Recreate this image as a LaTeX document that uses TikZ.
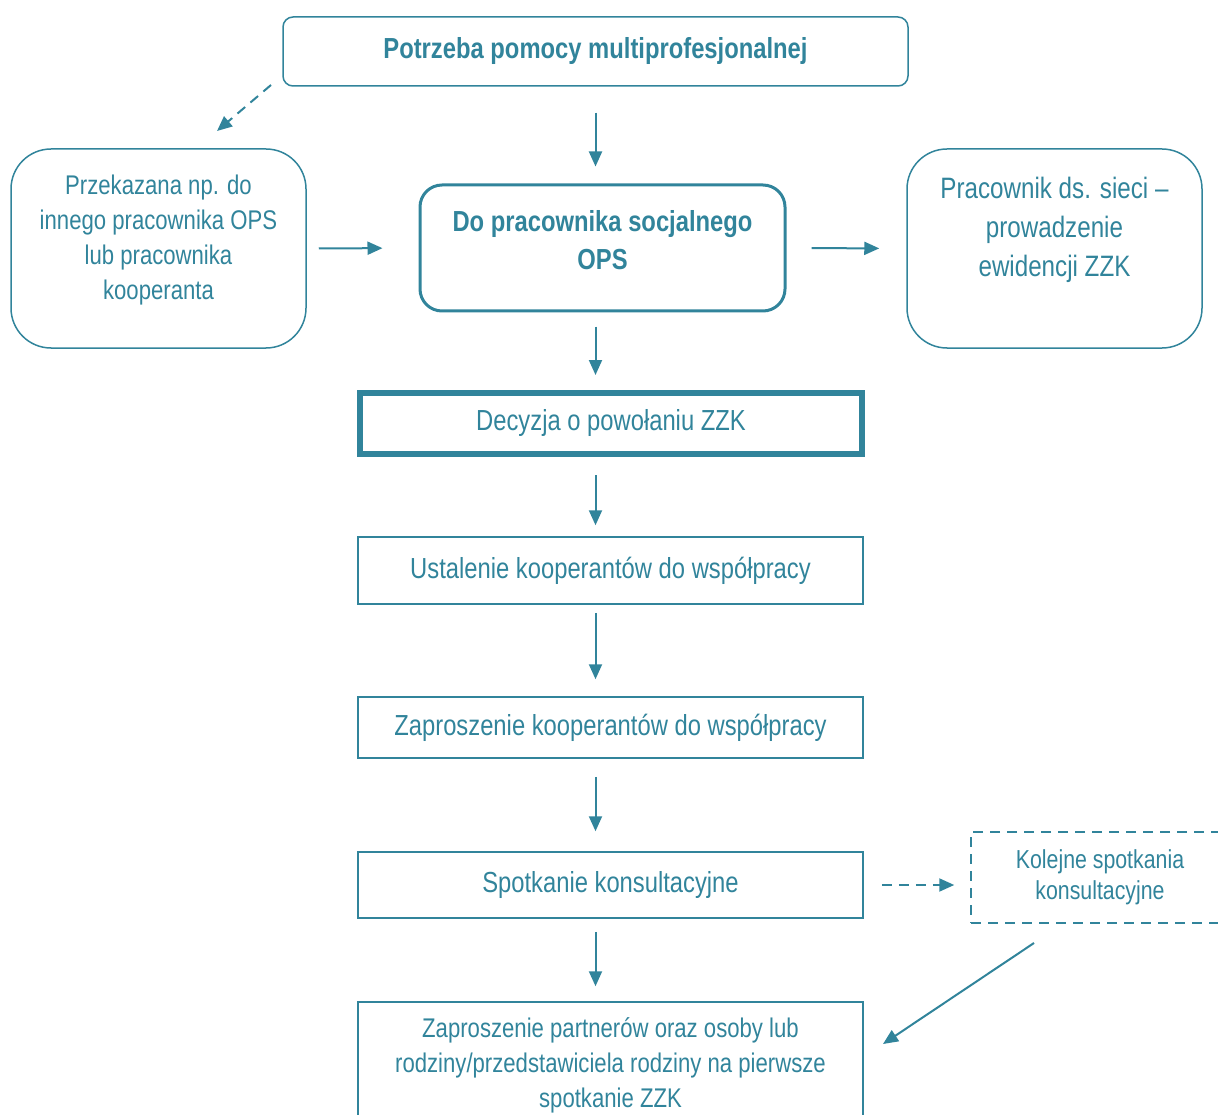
\documentclass[tikz,border=0pt]{standalone}
\usepackage{fontspec}
\setmainfont{Liberation Sans}[FakeStretch=0.82]
\usetikzlibrary{arrows.meta}
\definecolor{teal}{HTML}{31849B}
\tikzstyle{roundbox} = [
    rectangle,
    rounded corners=40pt,
    draw=teal,
    line width=1.5pt,
    align=center,
    text=teal,
    font=\fontsize{29}{35}\selectfont
]
\tikzstyle{stepbox} = [
    rectangle,
    draw=teal,
    line width=1.5pt,
    minimum width=505pt,
    align=center,
    text=teal,
    font=\fontsize{29}{35}\selectfont
]
\tikzstyle{boxtext} = [
    align=center,
    text=teal,
    font=\fontsize{27}{35}\selectfont
]
\tikzstyle{arrow} = [draw=teal, line width=2pt, -{Triangle[length=15pt,width=13pt]}]
\tikzstyle{dasharrow} = [arrow, dash pattern=on 10pt off 7pt]

\begin{document}
\begin{tikzpicture}[x=1pt,y=-1pt]
\useasboundingbox (0,0) rectangle (1218,1115);

\node (need) [roundbox, rounded corners=10pt, minimum width=625pt, minimum height=69pt,
    font=\fontsize{29}{35}\selectfont\bfseries] at (595.5,51.5)
{Potrzeba pomocy multiprofesjonalnej};

% rounded boxes, text set a bit above the middle
\node (other) [roundbox, minimum width=295pt, minimum height=199pt] at (158.5,248.5) {};
\node (othertext) [boxtext, yshift=8pt] at (other.center)
{Przekazana np. do\\innego pracownika OPS\\lub pracownika\\kooperanta};

\node (ops) [roundbox, rounded corners=22pt, line width=3pt, minimum width=365pt,
    minimum height=126pt] at (602.5,248) {};
\node (opstext) [boxtext, yshift=8pt, font=\fontsize{29}{38}\selectfont\bfseries] at (ops.center)
{Do pracownika socjalnego\\OPS};

\node (net) [roundbox, minimum width=295pt, minimum height=199pt] at (1054.5,248.5) {};
\node (nettext) [boxtext, yshift=19pt, font=\fontsize{29.5}{39}\selectfont] at (net.center)
{Pracownik ds. sieci --\\prowadzenie\\ewidencji ZZK};

\node (decision) [stepbox, line width=6pt, minimum width=502pt, minimum height=61pt] at (611,423.5)
{Decyzja o powołaniu ZZK};

\node (choose) [stepbox, minimum height=67pt] at (610.5,570.5)
{Ustalenie kooperantów do współpracy};

\node (invite) [stepbox, minimum height=61pt] at (610.5,727.5)
{Zaproszenie kooperantów do współpracy};

\node (meet) [stepbox, minimum height=66pt] at (610.5,885)
{Spotkanie konsultacyjne};

\node (first) [stepbox, minimum height=126pt, font=\fontsize{27}{35}\selectfont] at (610.5,1065)
{Zaproszenie partnerów oraz osoby lub\\rodziny/przedstawiciela rodziny na pierwsze\\spotkanie ZZK};

\node (next) [stepbox, dash pattern=on 10pt off 7pt, minimum width=258pt, minimum height=91pt,
    font=\fontsize{26}{31}\selectfont] at (1100,877.5)
{Kolejne spotkania\\konsultacyjne};

\coordinate (d1) at (271,85);
\coordinate (d2) at (217,131);
\coordinate (k1) at (1034,943);
\coordinate (k2) at (883,1044);

\draw [arrow, shorten <=26pt, shorten >=17pt] (need.south) -- (need.south |- ops.north);
\draw [dasharrow] (d1) -- (d2);
\draw [arrow, shorten <=12pt, shorten >=36pt] (other.east) -- (ops.west);
\draw [arrow, shorten <=25pt, shorten >=27pt] (ops.east) -- (net.west);

\draw [arrow, shorten <=14pt, shorten >=15pt] (ops.south -| need.south) -- (decision.north -| need.south);
\draw [arrow, shorten <=18pt, shorten >=11pt] (decision.south -| need.south) -- (choose.north -| need.south);
\draw [arrow, shorten <=8pt, shorten >=17pt] (choose.south -| need.south) -- (invite.north -| need.south);
\draw [arrow, shorten <=18pt, shorten >=20pt] (invite.south -| need.south) -- (meet.north -| need.south);
\draw [arrow, shorten <=13pt, shorten >=15pt] (meet.south -| need.south) -- (first.north -| need.south);

\draw [dasharrow, shorten <=18pt, shorten >=16pt] (meet.east) -- (meet.east -| next.west);
\draw [arrow] (k1) -- (k2);

\end{tikzpicture}
\end{document}
